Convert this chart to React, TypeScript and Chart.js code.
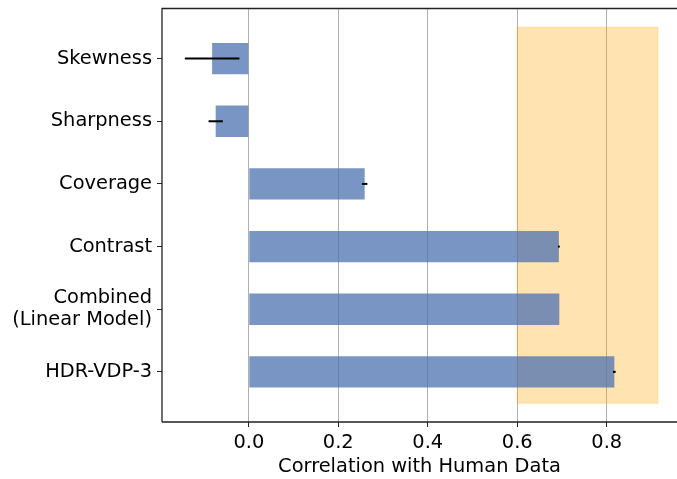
import React, { useEffect, useRef } from "react";
import { Chart, registerables } from "chart.js";

Chart.register(...registerables);

const categories: (string | string[])[] = [
  "Skewness",
  "Sharpness",
  "Coverage",
  "Contrast",
  ["Combined", "(Linear Model)"],
  "HDR-VDP-3",
];
const correlations = [-0.082, -0.074, 0.259, 0.693, 0.694, 0.817];
const errors = [0.061, 0.016, 0.006, 0.002, 0, 0.003];
const xTicks = [0, 0.2, 0.4, 0.6, 0.8];
const highlightRange = [0.6, 0.914];
const xTitle = "Correlation with Human Data";

const FONT = "'DejaVu Sans', sans-serif";

export default function App() {
  const ref = useRef<HTMLCanvasElement | null>(null);

  useEffect(() => {
    if (!ref.current) return;

    const boxPlugin = {
      id: "highlightBox",
      beforeDatasetsDraw(chart: any) {
        const { ctx, scales } = chart;
        const x0 = scales.x.getPixelForValue(highlightRange[0]);
        const x1 = scales.x.getPixelForValue(highlightRange[1]);
        const y0 = scales.y.getPixelForValue(-0.5);
        const y1 = scales.y.getPixelForValue(categories.length - 0.5);
        ctx.save();
        ctx.fillStyle = "rgba(255,165,0,0.3)";
        ctx.fillRect(x0, Math.min(y0, y1), x1 - x0, Math.abs(y1 - y0));
        ctx.strokeStyle = "rgba(255,165,0,0.2)";
        ctx.lineWidth = 1.5;
        ctx.strokeRect(x0, Math.min(y0, y1), x1 - x0, Math.abs(y1 - y0));
        ctx.restore();
      },
    };

    const errPlugin = {
      id: "errorBars",
      afterDatasetsDraw(chart: any) {
        const { ctx, scales } = chart;
        ctx.save();
        ctx.strokeStyle = "#000";
        ctx.lineWidth = 2;
        correlations.forEach((v, i) => {
          const e = errors[i];
          if (!e) return;
          const y = scales.y.getPixelForValue(i);
          ctx.beginPath();
          ctx.moveTo(scales.x.getPixelForValue(v - e), y);
          ctx.lineTo(scales.x.getPixelForValue(v + e), y);
          ctx.stroke();
        });
        ctx.restore();
      },
    };

    const framePlugin = {
      id: "frame",
      afterDraw(chart: any) {
        const { ctx, chartArea } = chart;
        ctx.save();
        ctx.strokeStyle = "#222";
        ctx.lineWidth = 1.3;
        ctx.beginPath();
        ctx.moveTo(chartArea.left, chartArea.bottom);
        ctx.lineTo(chartArea.left, chartArea.top);
        ctx.lineTo(chartArea.right + 2, chartArea.top);
        ctx.moveTo(chartArea.left, chartArea.bottom);
        ctx.lineTo(chartArea.right + 2, chartArea.bottom);
        ctx.stroke();
        ctx.restore();
      },
    };

    const chart = new Chart(ref.current, {
      type: "bar",
      data: {
        datasets: [
          {
            data: correlations.map((v, i) => ({ x: v, y: i })),
            backgroundColor: "rgba(76,114,176,0.75)",
            borderWidth: 0,
            barPercentage: 0.5,
            categoryPercentage: 1,
          },
        ],
      },
      options: {
        indexAxis: "y",
        animation: false,
        responsive: false,
        layout: { padding: { top: 8.5, right: 0, left: 0, bottom: 0 } },
        plugins: { legend: { display: false }, tooltip: { enabled: false } },
        scales: {
          x: {
            type: "linear",
            min: -0.194,
            max: 0.957,
            border: { display: false },
            afterBuildTicks: (scale: any) => {
              scale.ticks = xTicks.map((v) => ({ value: v }));
            },
            afterFit: (scale: any) => {
              scale.height = 57;
              scale.paddingLeft = 0;
              scale.paddingRight = 0;
            },
            grid: {
              color: "#b0b0b0",
              lineWidth: 1,
              tickColor: "#222",
              tickLength: 5,
            },
            ticks: {
              color: "#000",
              font: { family: FONT, size: 19.4 },
              padding: 4,
              maxRotation: 0,
              callback: (v: any) => Number(v).toFixed(1),
            },
            title: {
              display: true,
              text: xTitle,
              color: "#000",
              font: { family: FONT, size: 19.4 },
              padding: { top: 0, bottom: 0 },
            },
          },
          y: {
            type: "linear",
            reverse: true,
            offset: false,
            min: -0.8,
            max: 5.8,
            border: { display: false },
            afterBuildTicks: (scale: any) => {
              scale.ticks = categories.map((_, i) => ({ value: i }));
            },
            afterFit: (scale: any) => {
              scale.width = 162;
              scale.paddingTop = 0;
              scale.paddingBottom = 0;
            },
            grid: {
              offset: false,
              drawOnChartArea: false,
              tickColor: "#222",
              tickLength: 5,
            },
            ticks: {
              color: "#000",
              font: { family: FONT, size: 19.4, lineHeight: 1.15 },
              padding: 5,
              callback: (v: any) => categories[Math.round(Number(v))] as any,
            },
          },
        },
      },
      plugins: [boxPlugin, errPlugin, framePlugin],
    } as any);

    return () => chart.destroy();
  }, []);

  return (
    <div style={{ position: "fixed", left: 0, top: 0, width: 677, height: 479, background: "#fff" }}>
      <canvas ref={ref} width={677} height={479} style={{ width: 677, height: 479 }} />
    </div>
  );
}
